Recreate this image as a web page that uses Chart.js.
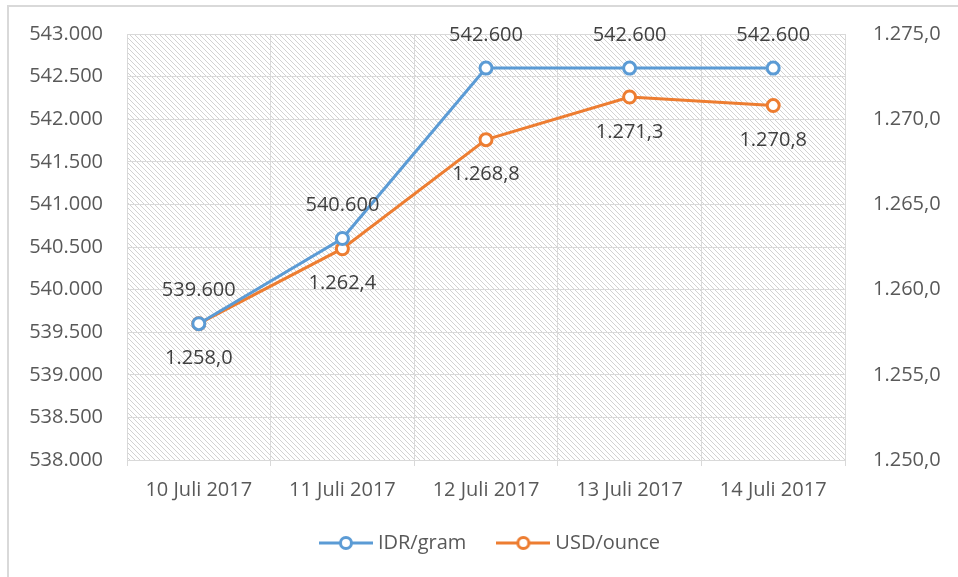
<!DOCTYPE html>
<html>
<head>
<meta charset="utf-8">
<script src="https://cdn.jsdelivr.net/npm/chart.js@4.4.1/dist/chart.umd.min.js"></script>
<style>
  html, body { margin: 0; padding: 0; background: #ffffff; }
  #wrap { width: 958px; height: 577px; position: relative; }
</style>
</head>
<body>
<div id="wrap"><canvas id="c" width="958" height="577"></canvas></div>
<script>
// ---- data ----
const categories = ['10 Juli 2017', '11 Juli 2017', '12 Juli 2017', '13 Juli 2017', '14 Juli 2017'];
const idrPerGram = [539600, 540600, 542600, 542600, 542600];
const usdPerOunce = [1258.0, 1262.4, 1268.8, 1271.3, 1270.8];
const seriesNames = ['IDR/gram', 'USD/ounce'];
const leftAxis = { min: 538000, max: 543000, step: 500 };
const rightAxis = { min: 1250, max: 1275, step: 5 };

const BLUE = '#5B9BD5';
const ORANGE = '#ED7D31';
const TEXT = '#595959';
const GRID = '#d9d9d9';
const FONT = '"Open Sans", "Liberation Sans", sans-serif';

function fmtInt(v) {
  return Math.round(v).toString().replace(/\B(?=(\d{3})+(?!\d))/g, '.');
}
function fmt1(v) {
  const s = (Math.round(v * 10) / 10).toFixed(1);
  const [i, d] = s.split('.');
  return i.replace(/\B(?=(\d{3})+(?!\d))/g, '.') + ',' + d;
}

// hatch pattern
function makeHatch() {
  const t = document.createElement('canvas');
  t.width = 5; t.height = 5;
  const g = t.getContext('2d');
  g.fillStyle = '#ffffff';
  g.fillRect(0, 0, 5, 5);
  g.strokeStyle = '#d2d2d2';
  g.lineWidth = 1;
  for (let k = -1; k <= 1; k++) {
    g.beginPath();
    g.moveTo(k * 5, 0);
    g.lineTo(k * 5 + 5, 5);
    g.stroke();
  }
  return t;
}

function legendIcon(color) {
  const c = document.createElement('canvas');
  c.width = 54; c.height = 18;
  const g = c.getContext('2d');
  g.strokeStyle = color;
  g.lineWidth = 3;
  g.beginPath();
  g.moveTo(0, 9); g.lineTo(54, 9);
  g.stroke();
  g.beginPath();
  g.arc(27, 9, 5.5, 0, Math.PI * 2);
  g.fillStyle = '#ffffff';
  g.fill();
  g.lineWidth = 3;
  g.stroke();
  return c;
}
const icons = [legendIcon(BLUE), legendIcon(ORANGE)];

const bgPlugin = {
  id: 'bgPlugin',
  afterLayout(chart) {
    // lift the legend a little closer to the axis labels
    if (chart.legend) {
      chart.legend.top -= 12;
      chart.legend.bottom -= 12;
    }
  },
  beforeDraw(chart) {
    const { ctx, chartArea: a } = chart;
    ctx.save();
    // outer frame (left and top edges visible)
    ctx.strokeStyle = '#d9d9d9';
    ctx.lineWidth = 2;
    ctx.beginPath();
    ctx.moveTo(8, 577);
    ctx.lineTo(8, 6);
    ctx.lineTo(958, 6);
    ctx.stroke();
    // hatched plot area
    const pat = ctx.createPattern(makeHatch(), 'repeat');
    ctx.fillStyle = pat;
    ctx.fillRect(a.left, a.top, a.right - a.left, a.bottom - a.top);
    ctx.restore();
  }
};

const labelPlugin = {
  id: 'labelPlugin',
  afterDatasetsDraw(chart) {
    const { ctx } = chart;
    ctx.save();
    ctx.font = '20px ' + FONT;
    ctx.fillStyle = '#404040';
    ctx.textAlign = 'center';
    ctx.textBaseline = 'middle';
    chart.data.datasets.forEach((ds, di) => {
      const meta = chart.getDatasetMeta(di);
      meta.data.forEach((pt, i) => {
        const v = ds.data[i];
        if (di === 0) {
          ctx.fillText(fmtInt(v), pt.x, pt.y - 33);
        } else {
          ctx.fillText(fmt1(v), pt.x, pt.y + 35);
        }
      });
    });
    ctx.restore();
  }
};

function fixVertical(width) {
  return function (s) {
    s.width = width;
    s.paddingTop = 12;
    s.paddingBottom = 12;
  };
}

const ctx = document.getElementById('c').getContext('2d');
new Chart(ctx, {
  type: 'line',
  data: {
    labels: categories,
    datasets: [
      {
        label: seriesNames[0],
        data: idrPerGram,
        yAxisID: 'y',
        borderColor: BLUE,
        backgroundColor: '#ffffff',
        borderWidth: 3,
        pointRadius: 6,
        pointBorderWidth: 3,
        pointBackgroundColor: '#ffffff',
        pointBorderColor: BLUE,
        tension: 0
      },
      {
        label: seriesNames[1],
        data: usdPerOunce,
        yAxisID: 'y1',
        borderColor: ORANGE,
        backgroundColor: '#ffffff',
        borderWidth: 3,
        pointRadius: 6,
        pointBorderWidth: 3,
        pointBackgroundColor: '#ffffff',
        pointBorderColor: ORANGE,
        tension: 0
      }
    ]
  },
  options: {
    responsive: false,
    animation: false,
    devicePixelRatio: 1,
    layout: { padding: { top: 34, left: 26, right: 0, bottom: 2 } },
    plugins: {
      tooltip: { enabled: false },
      legend: {
        position: 'bottom',
        labels: {
          usePointStyle: true,
          pointStyleWidth: 44,
          padding: 35,
          color: TEXT,
          font: { size: 20, family: FONT },
          generateLabels(chart) {
            return chart.data.datasets.map((ds, i) => ({
              text: ds.label,
              fontColor: TEXT,
              pointStyle: icons[i],
              hidden: false,
              datasetIndex: i,
              lineWidth: 0,
              strokeStyle: ds.borderColor,
              fillStyle: '#ffffff'
            }));
          }
        }
      }
    },
    scales: {
      x: {
        type: 'category',
        offset: true,
        grid: { offset: true, color: GRID, lineWidth: 1, tickLength: 6, drawTicks: true },
        border: { color: GRID },
        ticks: { color: TEXT, font: { size: 20, family: FONT }, padding: 12, maxRotation: 0 },
        afterFit(s) { s.height = 50; }
      },
      y: {
        position: 'left',
        min: leftAxis.min,
        max: leftAxis.max,
        grid: { color: GRID, drawTicks: false },
        border: { display: false },
        ticks: {
          stepSize: leftAxis.step,
          color: TEXT,
          font: { size: 20, family: FONT },
          padding: 24,
          callback: v => fmtInt(v)
        },
        afterFit: fixVertical(101)
      },
      y1: {
        position: 'right',
        min: rightAxis.min,
        max: rightAxis.max,
        grid: { drawOnChartArea: false, drawTicks: false },
        border: { display: false },
        ticks: {
          stepSize: rightAxis.step,
          color: TEXT,
          font: { size: 20, family: FONT },
          padding: 28,
          callback: v => fmt1(v)
        },
        afterFit: fixVertical(113)
      }
    }
  },
  plugins: [bgPlugin, labelPlugin]
});
</script>
</body>
</html>
